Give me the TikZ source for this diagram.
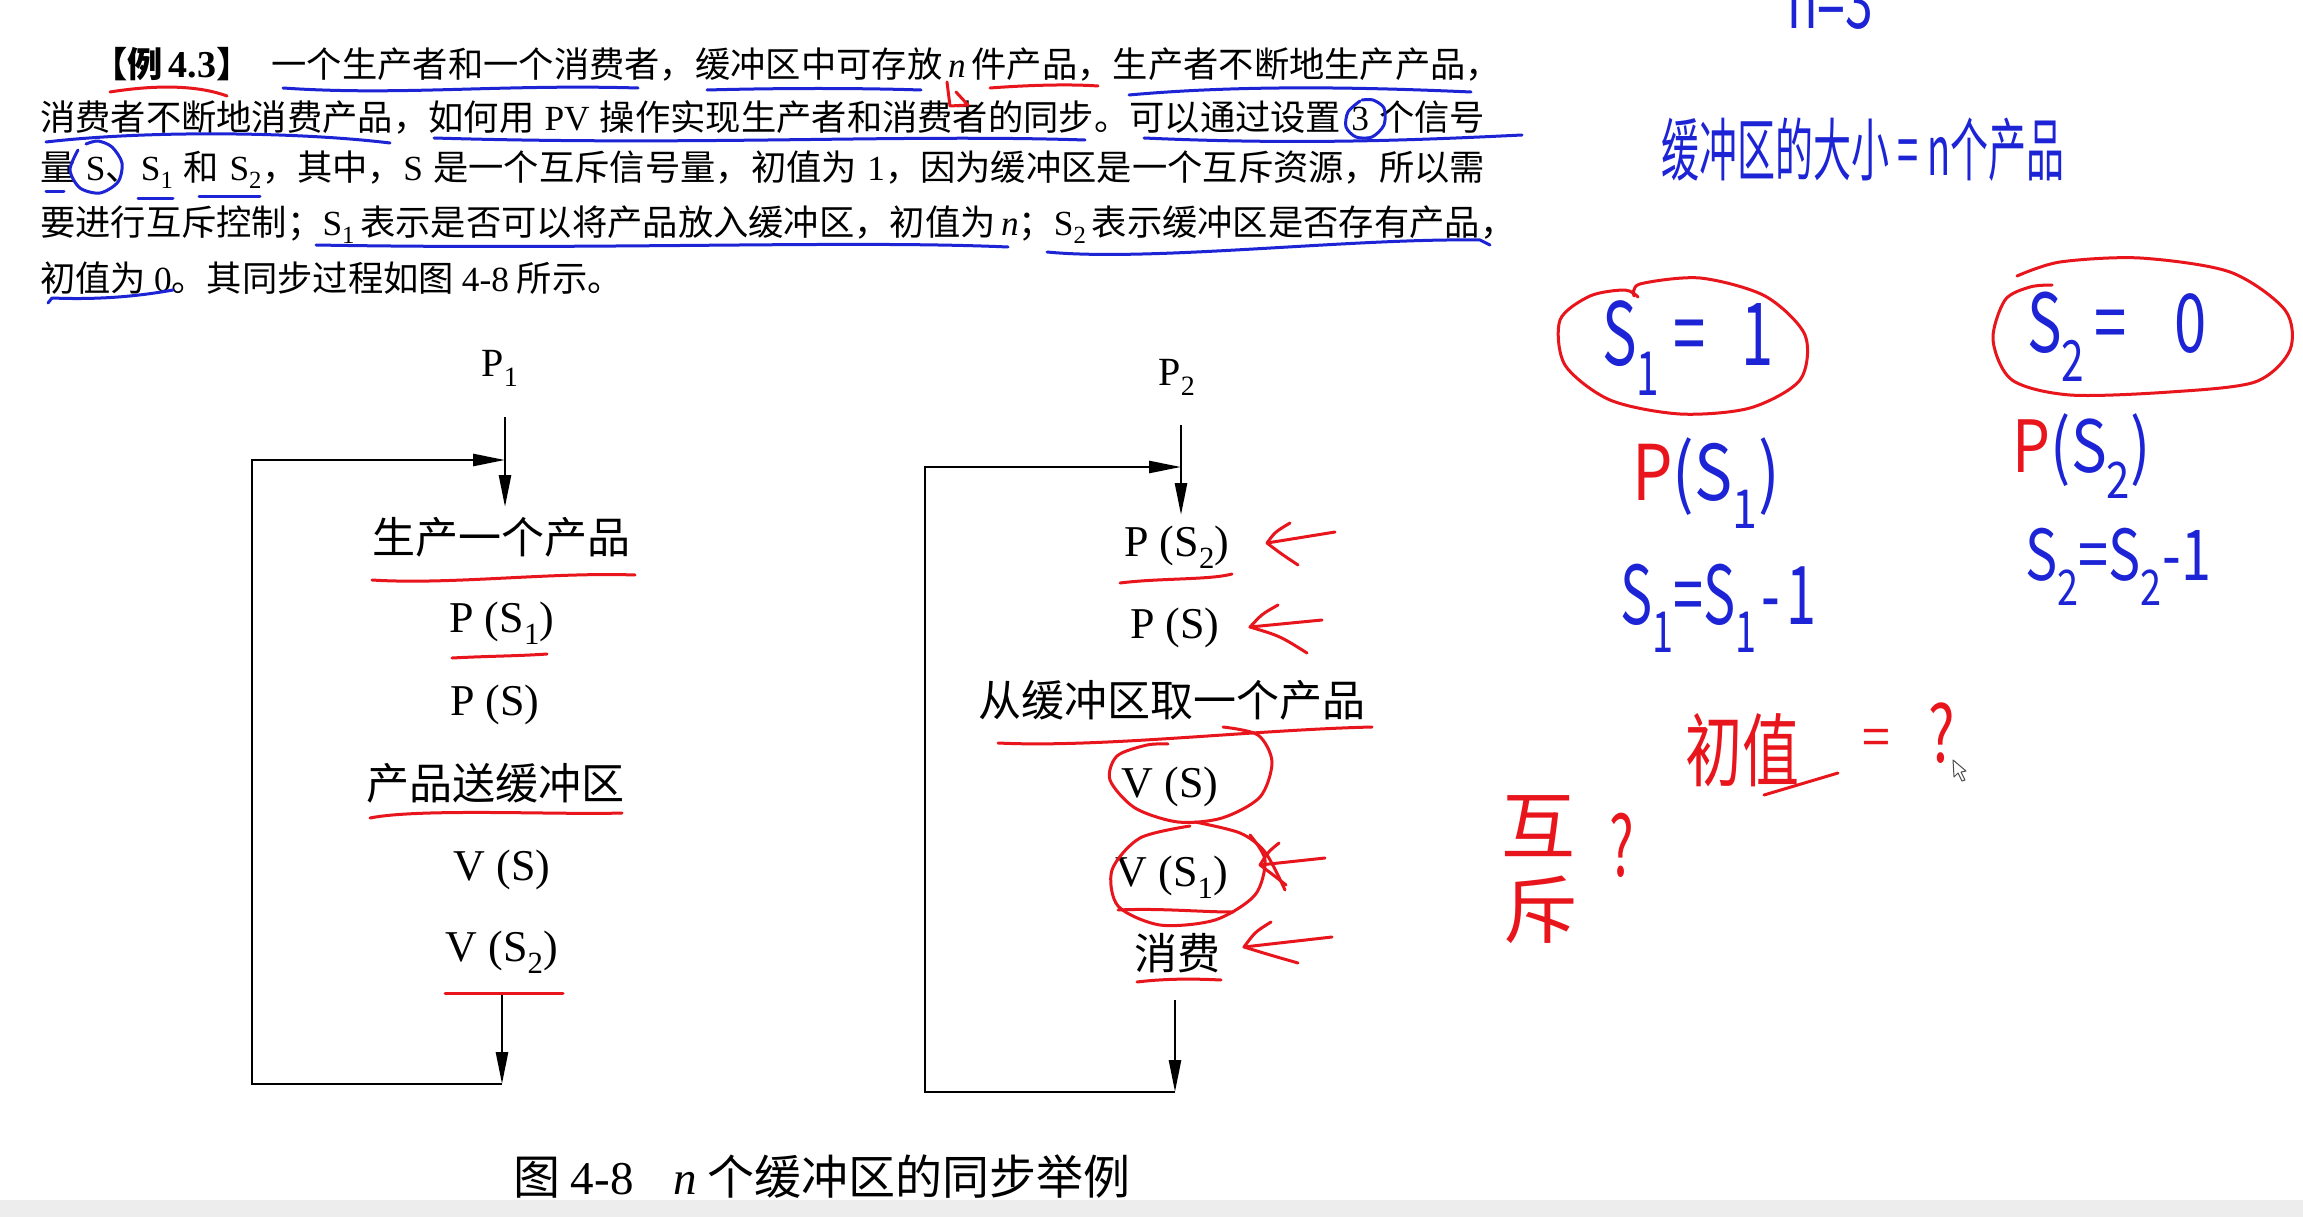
\documentclass[tikz,border=0pt]{standalone}
\usepackage{fontspec}
\setmainfont{Noto Sans CJK SC}
\newfontfamily\ltf{Liberation Serif}
\newcommand\ltn[1]{{\ltf #1}}
\newcommand\sbs[1]{\textsubscript{#1}}
\newcommand\jl[2]{\hbox to #1pt{#2}}
\XeTeXlinebreaklocale "zh"
\XeTeXlinebreakskip=0pt plus 4pt
\usetikzlibrary{arrows.meta}
\definecolor{pblue}{RGB}{28,36,214}
\definecolor{pred}{RGB}{232,22,28}
\begin{document}
\begin{tikzpicture}[x=1pt,y=-1pt,
  body/.style={anchor=base west, inner sep=0pt, font=\fontsize{35.3}{40}\selectfont},
  fcj/.style={inner sep=0pt, font=\fontsize{43}{48}\selectfont},
  fcl/.style={inner sep=0pt, font=\ltf\fontsize{44}{50}\selectfont},
  flow/.style={line width=2.6pt, -{Triangle[length=32pt,width=12pt]}},
  loopline/.style={line width=2.8pt},
  pen/.style={line width=3pt, line cap=round, line join=round},
  hw/.style={inner sep=0pt}]
\useasboundingbox (0,0) rectangle (2303,1217);
\fill[white] (0,0) rectangle (2303,1217);
\fill[black!7] (0,1200) rectangle (2303,1217);

% ---------- paragraph ----------
\node[body] (t1) at (92,78) {\jl{1409}{{\bfseries 【例 \ltn{\bfseries\fontsize{38}{40}\selectfont 4.3}】}\hskip 20pt 一个生产者和一个消费者，缓冲区中可存放 \ltn{\itshape n} 件产品，生产者不断地生产产品，}};
\node[body] (t2) at (40,131) {\jl{1445}{消费者不断地消费产品，如何用 \ltn{PV} 操作实现生产者和消费者的同步。可以通过设置 \ltn{3} 个信号}};
\node[body] (t3) at (40,181) {\jl{1445}{量 \ltn{S}、\ltn{S\sbs{1}} 和 \ltn{S\sbs{2}}，其中，\ltn{S} 是一个互斥信号量，初值为 \ltn{1}，因为缓冲区是一个互斥资源，所以需}};
\node[body] (t4) at (40,236) {\jl{1461}{要进行互斥控制；\ltn{S\sbs{1}} 表示是否可以将产品放入缓冲区，初值为 \ltn{\itshape n}；\ltn{S\sbs{2}} 表示缓冲区是否存有产品，}};
\node[body] (t5) at (40,291) {初值为 \ltn{0}。其同步过程如图 \ltn{4-8} 所示。};

% ---------- left flow (P1) ----------
\node[fcl, font=\ltf\fontsize{40}{44}\selectfont] (p1) at (500,368) {P\sbs{1}};
\node[fcj] (a1) at (501,537) {生产一个产品};
\node[fcl] (a2) at (502,623) {P (S\sbs{1})};
\node[fcl] (a3) at (495,705) {P (S)};
\node[fcj] (a4) at (495,783) {产品送缓冲区};
\node[fcl] (a5) at (502,870) {V (S)};
\node[fcl] (a6) at (502,952) {V (S\sbs{2})};
\coordinate (l1s) at (505,417);
\coordinate (l1e) at (505,507);
\coordinate (l1j) at (505,460);
\coordinate (l1b) at (502,993);
\coordinate (l1bb) at (502,1084);
\coordinate (l1c1) at (252,1084);
\coordinate (l1c2) at (252,460);
\draw[flow] (l1s) -- (l1e);
\draw[flow] (l1b) -- (l1bb);
\draw[loopline] (l1bb) -- (l1c1) -- (l1c2) -- ([xshift=-20pt]l1j);
\draw[flow] (l1c2) -- (l1j);

% ---------- right flow (P2) ----------
\node[fcl, font=\ltf\fontsize{40}{44}\selectfont] (p2) at (1177,377) {P\sbs{2}};
\node[fcl] (b1) at (1177,547) {P (S\sbs{2})};
\node[fcl] (b2) at (1175,628) {P (S)};
\node[fcj] (b3) at (1172,700) {从缓冲区取一个产品};
\node[fcl] (b4) at (1170,787) {V (S)};
\node[fcl] (b5) at (1172,877) {V (S\sbs{1})};
\node[fcj] (b6) at (1177,953) {消费};
\coordinate (r1s) at (1181,425);
\coordinate (r1e) at (1181,515);
\coordinate (r1j) at (1181,467);
\coordinate (r1b) at (1175,1000);
\coordinate (r1bb) at (1175,1092);
\coordinate (r1c1) at (925,1092);
\coordinate (r1c2) at (925,467);
\draw[flow] (r1s) -- (r1e);
\draw[flow] (r1b) -- (r1bb);
\draw[loopline] (r1bb) -- (r1c1) -- (r1c2) -- ([xshift=-20pt]r1j);
\draw[flow] (r1c2) -- (r1j);

% ---------- caption ----------
\node[inner sep=0pt, font=\fontsize{47}{50}\selectfont] (cap) at (822,1177) {图 \ltn{4-8}\hskip 40pt\ltn{\itshape n} 个缓冲区的同步举例};

% ---------- blue pen on paragraph ----------
\begin{scope}[pen, pblue]
\draw (283,88) .. controls (400,96) and (500,84) .. (638,88);
\draw (707,90) .. controls (780,88) and (860,88) .. (921,90);
\draw (1129,95) .. controls (1250,84) and (1380,88) .. (1471,92);
\draw (46,142) .. controls (150,130) and (300,132) .. (390,143);
\draw (434,138) .. controls (700,146) and (900,134) .. (1085,140);
\draw (1144,138) .. controls (1300,145) and (1420,140) .. (1522,135);
\draw plot[smooth] coordinates {(1360,101) (1348,112) (1346,127) (1356,137) (1372,137) (1384,125) (1384,108) (1373,100) (1362,100)};
\draw (46,192) -- (64,192);
\draw plot[smooth] coordinates {(78,150) (70,170) (80,188) (100,193) (118,182) (122,163) (112,147) (98,141) (86,144)};
\draw (138,199) -- (173,199);
\draw (199,197) -- (260,197);
\draw (316,245) .. controls (600,250) and (850,240) .. (1008,247);
\draw (1047,252) .. controls (1150,262) and (1350,238) .. (1480,240) -- (1490,245);
\draw (48,303) -- (52,298) .. controls (100,300) and (140,296) .. (173,290);
\end{scope}

% ---------- red pen ----------
\begin{scope}[pen, pred]
\draw (110,92) .. controls (160,84) and (200,86) .. (227,96);
\draw (990,88) .. controls (1030,85) and (1070,84) .. (1098,86);
\draw (947,82) -- (950,106) -- (968,105) -- (956,92);
\draw (372,580) .. controls (450,585) and (550,572) .. (635,575);
\draw (452,658) .. controls (490,656) and (520,656) .. (547,654);
\draw (370,818) .. controls (420,808) and (560,815) .. (622,813);
\draw (445,993) -- (563,993);
\draw (1120,583) .. controls (1160,578) and (1210,580) .. (1232,574);
\draw (998,743) .. controls (1100,748) and (1250,730) .. (1372,727);
\draw (1118,910) .. controls (1160,908) and (1200,912) .. (1233,912);
\draw (1137,982) .. controls (1170,978) and (1200,979) .. (1221,980);
% arrows
\draw (1335,532) -- (1267,543);
\draw (1290,523) .. controls (1275,532) .. (1267,543) .. controls (1280,553) .. (1298,565);
\draw (1322,620) -- (1250,627);
\draw (1278,605) .. controls (1262,614) .. (1250,627) .. controls (1280,636) .. (1307,653);
\draw (1325,858) -- (1260,865);
\draw (1279,843) .. controls (1268,852) .. (1260,865) .. controls (1272,874) .. (1286,885);
\draw (1332,937) -- (1244,947);
\draw (1271,922) .. controls (1255,932) .. (1244,947) .. controls (1270,955) .. (1298,963);
% loops
\draw plot[smooth] coordinates {(1223,727) (1258,735) (1272,762) (1260,797) (1222,818) (1178,822) (1135,808) (1110,780) (1117,756) (1147,745) (1168,744)};
\draw plot[smooth] coordinates {(1195,822) (1240,833) (1265,852) (1285,890)};
\draw plot[smooth] coordinates {(1190,826) (1140,838) (1112,870) (1118,906) (1160,925) (1215,920) (1255,895) (1265,860) (1250,835)};
% ellipses
\draw plot[smooth] coordinates {(1634,296) (1640,284) (1700,278) (1765,296) (1805,335) (1800,380) (1750,408) (1680,414) (1610,400) (1565,365) (1560,320) (1590,296) (1625,290) (1638,297)};
\draw plot[smooth] coordinates {(2017,276) (2060,262) (2140,258) (2230,272) (2285,310) (2290,350) (2255,382) (2170,392) (2070,395) (2012,380) (1993,340) (2005,300) (2030,287) (2052,285)};
\draw (1764,795) -- (1838,773);
\end{scope}

% ---------- handwriting text ----------
\node[hw, text=pblue] (h0) at (1830,2) {\fontsize{50}{50}\selectfont\scalebox{1}[1.5]{n=3}};
\node[hw, text=pblue] (h1) at (1863,150) {\fontsize{38}{40}\selectfont\scalebox{1}[1.8]{缓冲区的大小 = n个产品}};
\node[hw, text=pblue] (h2) at (1688,348) {\fontsize{58}{58}\selectfont\scalebox{1}[1.5]{S\sbs{1}\hskip14pt=\hskip36pt 1}};
\node[hw, text=pblue] (h3) at (2117,337) {\fontsize{58}{58}\selectfont\scalebox{1}[1.4]{S\sbs{2}\hskip10pt=\hskip48pt 0}};
\node[hw, text=pblue] (h4) at (1706,483) {\fontsize{64}{64}\selectfont\scalebox{1}[1.2]{{\color{pred}P}(S\sbs{1})}};
\node[hw, text=pblue] (h5) at (2082,456) {\fontsize{60}{60}\selectfont\scalebox{1}[1.2]{{\color{pred}P}(S\sbs{2})}};
\node[hw, text=pblue] (h6) at (1718,608) {\fontsize{54}{54}\selectfont\scalebox{1}[1.5]{S\sbs{1}=S\sbs{1}\hskip4pt-\hskip6pt1}};
\node[hw, text=pblue] (h7) at (2118,567) {\fontsize{54}{54}\selectfont\scalebox{1}[1.3]{S\sbs{2}=S\sbs{2}-1}};
\node[hw, text=pred] (h8) at (1742,750) {\fontsize{57}{57}\selectfont\scalebox{1}[1.4]{初值}};
\node[hw, text=pred] (h9) at (1876,742) {\fontsize{50}{50}\selectfont =};
\node[hw, text=pred] (h10) at (1942,733) {\fontsize{56}{56}\selectfont\scalebox{1}[1.4]{?}};
\node[hw, text=pred] (h11) at (1538,826) {\fontsize{74}{74}\selectfont 互};
\node[hw, text=pred] (h12) at (1540,910) {\fontsize{74}{74}\selectfont 斥};
\node[hw, text=pred] (h13) at (1622,845) {\fontsize{52}{52}\selectfont\scalebox{1}[1.6]{?}};
% cursor
\draw[black!70, fill=white, line width=1pt, line join=round] (1953,760) -- (1954,777) -- (1958,773) -- (1962,781) -- (1965,780) -- (1961,772) -- (1966,771) -- cycle;
\end{tikzpicture}
\end{document}
